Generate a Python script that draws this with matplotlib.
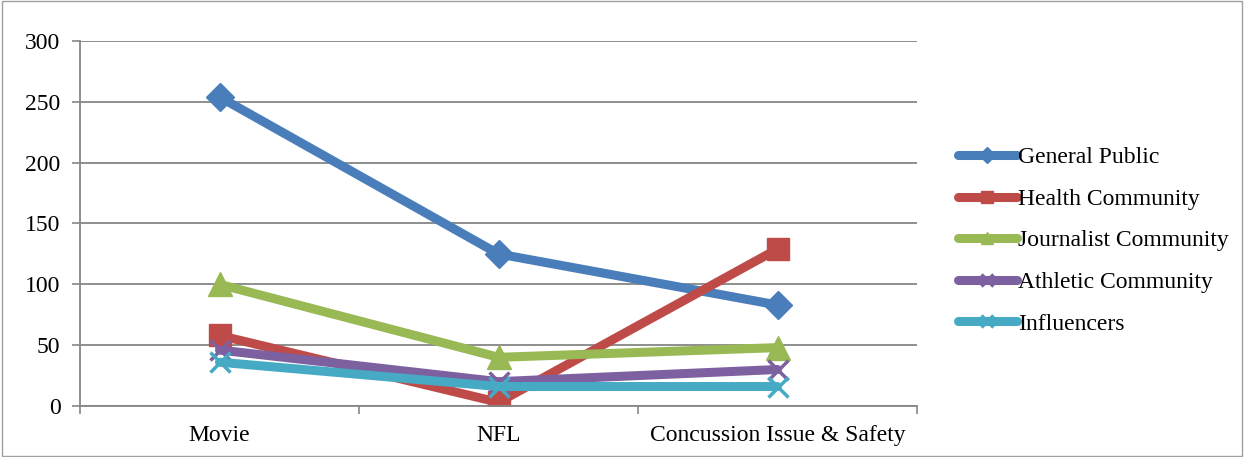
import numpy as np
import matplotlib.pyplot as plt

plt.rcParams['font.family'] = ['Liberation Serif', 'DejaVu Serif']

categories = ['Movie', 'NFL', 'Concussion Issue & Safety']
series_names = ['General Public', 'Health Community', 'Journalist Community',
                'Athletic Community', 'Influencers']
general_public = [254, 125, 83]
health_community = [58, 3, 129]
journalist_community = [100, 40, 48]
athletic_community = [46, 20, 30]
influencers = [36, 16, 16]

colors = ['#4A7EBB', '#BE4B48', '#98B954', '#7D60A0', '#46AAC5']
markers = ['D', 's', '^', 'x', 'x']
sizes = [14, 16, 17, 15, 15]

fig = plt.figure(figsize=(12.44, 4.57), dpi=100)
ax = fig.add_axes([80 / 1244, 51 / 457, 837 / 1244, 365 / 457])

x = np.arange(len(categories))
all_series = [general_public, health_community, journalist_community,
              athletic_community, influencers]
for vals, name, c, m, s in zip(all_series, series_names, colors, markers, sizes):
    if m == 'x':
        ax.plot(x, vals, color=c, lw=6.5, marker=m, markersize=s, mew=2.5,
                label=name, solid_capstyle='round')
    else:
        ax.plot(x, vals, color=c, lw=6.5, marker=m, markersize=s,
                markeredgecolor=c, markerfacecolor=c, label=name,
                solid_capstyle='round')

ax.set_xlim(-0.5, 2.5)
ax.set_ylim(0, 300)
ax.set_yticks(range(0, 301, 50))
ax.set_xticks(x)
ax.set_xticklabels(categories)
ax.set_xticks([-0.5, 0.5, 1.5, 2.5], minor=True)
ax.tick_params(axis='x', which='major', length=0, pad=14, labelsize=17)
ax.tick_params(axis='x', which='minor', length=6, color='#868686', width=1.2)
ax.tick_params(axis='y', length=6, color='#868686', width=1.2, labelsize=17, pad=8)
ax.grid(axis='y', color='#868686', lw=1.3)
ax.set_axisbelow(True)
for side in ['top', 'right']:
    ax.spines[side].set_visible(False)
for side in ['left', 'bottom']:
    ax.spines[side].set_color('#868686')
    ax.spines[side].set_linewidth(1.3)

leg = ax.legend(loc='center left', bbox_to_anchor=(1.023, 0.453), frameon=False,
                fontsize=17, handlelength=2.5, handletextpad=0.05,
                labelspacing=0.85, markerscale=0.55)

fig.patches.append(plt.Rectangle((0.002, 0.002), 0.996, 0.996, transform=fig.transFigure,
                                 fill=False, edgecolor='#A0A0A0', lw=1))

fig.savefig('out.png', dpi=100)
